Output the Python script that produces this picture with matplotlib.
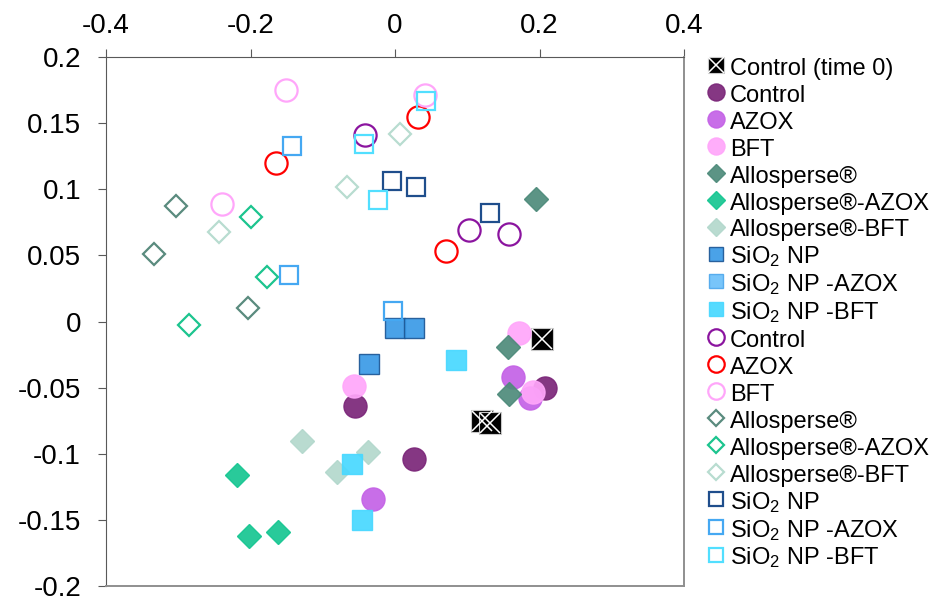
import matplotlib
matplotlib.use('Agg')
import matplotlib.pyplot as plt

plt.rcParams['font.family'] = ['Liberation Sans', 'DejaVu Sans']
plt.rcParams['mathtext.fontset'] = 'custom'
plt.rcParams['mathtext.rm'] = 'Liberation Sans'
plt.rcParams['mathtext.it'] = 'Liberation Sans:italic'

# data (x, y pairs per series)
ctrl0_x = [0.204, 0.120, 0.132]
ctrl0_y = [-0.013, -0.075, -0.077]

# filled markers
f_control_x = [0.207, 0.026, -0.055]
f_control_y = [-0.050, -0.104, -0.064]
f_azox_x = [0.164, 0.187, -0.031]
f_azox_y = [-0.042, -0.058, -0.134]
f_bft_x = [0.171, 0.191, -0.057]
f_bft_y = [-0.009, -0.053, -0.049]
f_allo_x = [0.156, 0.158, 0.195]
f_allo_y = [-0.019, -0.055, 0.093]
f_allo_azox_x = [-0.218, -0.202, -0.162]
f_allo_azox_y = [-0.116, -0.162, -0.159]
f_allo_bft_x = [-0.129, -0.080, -0.038]
f_allo_bft_y = [-0.090, -0.114, -0.099]
f_sio2_x = [-0.036, 0.000, 0.026]
f_sio2_y = [-0.032, -0.005, -0.005]
f_sio2_azox_x = []
f_sio2_azox_y = []
f_sio2_bft_x = [0.085, -0.059, -0.046]
f_sio2_bft_y = [-0.029, -0.108, -0.150]

# open markers
o_control_x = [-0.041, 0.103, 0.158]
o_control_y = [0.141, 0.069, 0.066]
o_azox_x = [-0.165, 0.032, 0.070]
o_azox_y = [0.120, 0.155, 0.053]
o_bft_x = [-0.151, -0.239, 0.042]
o_bft_y = [0.175, 0.089, 0.171]
o_allo_x = [-0.303, -0.333, -0.204]
o_allo_y = [0.087, 0.051, 0.010]
o_allo_azox_x = [-0.199, -0.177, -0.285]
o_allo_azox_y = [0.079, 0.034, -0.003]
o_allo_bft_x = [-0.244, -0.067, 0.007]
o_allo_bft_y = [0.068, 0.102, 0.142]
o_sio2_x = [-0.004, 0.029, 0.131]
o_sio2_y = [0.106, 0.102, 0.082]
o_sio2_azox_x = [-0.143, -0.147, -0.003]
o_sio2_azox_y = [0.133, 0.035, 0.008]
o_sio2_bft_x = [-0.043, -0.023, 0.043]
o_sio2_bft_y = [0.134, 0.092, 0.167]

xticks = [-0.4, -0.2, 0, 0.2, 0.4]
xtick_labels = ['-0.4', '-0.2', '0', '0.2', '0.4']
yticks = [-0.2, -0.15, -0.1, -0.05, 0, 0.05, 0.1, 0.15, 0.2]
ytick_labels = ['-0.2', '-0.15', '-0.1', '-0.05', '0', '0.05', '0.1', '0.15', '0.2']

fig = plt.figure(figsize=(9.38, 6.02), dpi=100)
ax = fig.add_axes([106 / 938, 1 - 586 / 602, 578 / 938, 529 / 602])

handles = []
labels = []

# control at time 0: black box with white cross
h1 = ax.plot(ctrl0_x, ctrl0_y, ls='none', marker='s', ms=15.5, mfc='black',
             mec='#c8c8c8', mew=0.8)[0]
h2 = ax.plot(ctrl0_x, ctrl0_y, ls='none', marker='x', ms=15.0, mec='white',
             mew=1.1)[0]
handles.append((h1, h2))
labels.append('Control (time 0)')

filled = [
    (f_control_x, f_control_y, 'o', '#7b2679', '#7b2679', 'Control'),
    (f_azox_x, f_azox_y, 'o', '#c462e6', '#c462e6', 'AZOX'),
    (f_bft_x, f_bft_y, 'o', '#ffa6fa', '#ffa6fa', 'BFT'),
    (f_allo_x, f_allo_y, 'D', '#4e8b7b', '#4e8b7b', 'Allosperse®'),
    (f_allo_azox_x, f_allo_azox_y, 'D', '#16c692', '#16c692', 'Allosperse®-AZOX'),
    (f_allo_bft_x, f_allo_bft_y, 'D', '#b3d8cc', '#b3d8cc', 'Allosperse®-BFT'),
    (f_sio2_x, f_sio2_y, 's', '#3a9ae6', '#1e5896', 'SiO$_2$ NP'),
    (f_sio2_azox_x, f_sio2_azox_y, 's', '#6dc0fa', '#4fa8ec', 'SiO$_2$ NP -AZOX'),
    (f_sio2_bft_x, f_sio2_bft_y, 's', '#48d8ff', '#48d8ff', 'SiO$_2$ NP -BFT'),
]
sizes_f = {'o': 16.6, 'D': 11.8, 's': 14.0}
for xs, ys, m, fc, ec, lab in filled:
    h = ax.plot(xs, ys, ls='none', marker=m, ms=sizes_f[m], mfc=fc, mec=ec,
                mew=1.0, alpha=0.92)[0]
    handles.append(h)
    labels.append(lab)

opened = [
    (o_control_x, o_control_y, 'o', '#8b149f', 'Control'),
    (o_azox_x, o_azox_y, 'o', '#ff0000', 'AZOX'),
    (o_bft_x, o_bft_y, 'o', '#ffa6fa', 'BFT'),
    (o_allo_x, o_allo_y, 'D', '#5a8b7e', 'Allosperse®'),
    (o_allo_azox_x, o_allo_azox_y, 'D', '#1cc48e', 'Allosperse®-AZOX'),
    (o_allo_bft_x, o_allo_bft_y, 'D', '#b8dcd0', 'Allosperse®-BFT'),
    (o_sio2_x, o_sio2_y, 's', '#1f4e8c', 'SiO$_2$ NP'),
    (o_sio2_azox_x, o_sio2_azox_y, 's', '#45a8f2', 'SiO$_2$ NP -AZOX'),
    (o_sio2_bft_x, o_sio2_bft_y, 's', '#52dfff', 'SiO$_2$ NP -BFT'),
]
sizes_o = {'o': 16.0, 'D': 10.8, 's': 13.0}
for xs, ys, m, ec, lab in opened:
    h = ax.plot(xs, ys, ls='none', marker=m, ms=sizes_o[m], mfc='none', mec=ec,
                mew=1.6)[0]
    handles.append(h)
    labels.append(lab)

ax.set_xlim(-0.4, 0.4)
ax.set_ylim(-0.2, 0.2)
ax.set_xticks(xticks)
ax.set_xticklabels(xtick_labels)
ax.set_yticks(yticks)
ax.set_yticklabels(ytick_labels)
ax.xaxis.tick_top()
ax.tick_params(axis='x', direction='out', length=6, width=0.8, color='#595959',
               labelsize=20, pad=7)
ax.tick_params(axis='y', direction='out', length=6, width=0.8, color='#595959',
               labelsize=20, pad=12)

for s in ['left', 'top']:
    ax.spines[s].set_color('#595959')
    ax.spines[s].set_linewidth(0.8)
for s in ['right', 'bottom']:
    ax.spines[s].set_color('#8f8f8f')
    ax.spines[s].set_linewidth(1.4)

ax.legend(handles, labels, loc='upper left', bbox_to_anchor=(704 / 938, 1 - 55 / 602),
          bbox_transform=fig.transFigure, frameon=False, fontsize=17,
          handlelength=1.0, handleheight=1.15, handletextpad=0.1,
          labelspacing=0.095, borderpad=0, borderaxespad=0, markerscale=0.74)

fig.savefig('out.png', dpi=100)
